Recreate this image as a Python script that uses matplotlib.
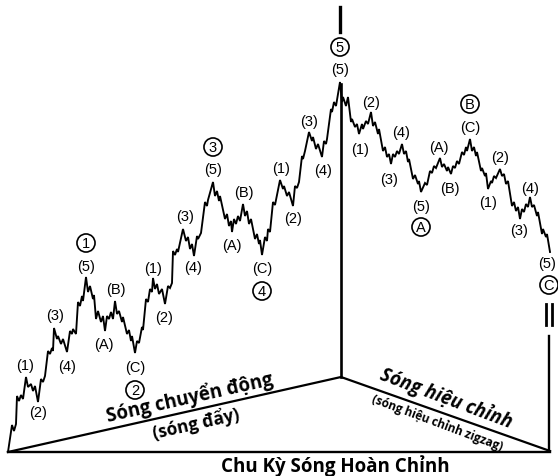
import matplotlib.pyplot as plt

plt.rcParams.update({"font.family": ["Liberation Sans", "DejaVu Sans"]})

# Wave path (pixel coords, y grows downward)
WAVE = [
    # impulse wave 1
    (8, 453), (12, 426), (14, 432), (16, 425), (17, 397), (19, 402), (21, 396), (23, 400), (26, 378),
    (28, 388), (31, 385), (33, 392), (35, 387), (38, 403),
    (41, 380), (43, 383), (45, 377), (48, 352), (50, 355), (52, 349), (53, 352), (54, 329),
    (57, 340), (58, 337), (61, 345), (63, 340), (67, 353),
    (70, 332), (72, 335), (73, 330), (76, 335), (78, 303), (80, 307), (82, 297), (83, 302), (86, 278),
    # wave 2
    (88, 293), (90, 287), (93, 300), (94, 296), (96, 320), (98, 312), (101, 323), (103, 317), (105, 332),
    (107, 317), (109, 320), (111, 313), (113, 320), (115, 302),
    (117, 315), (119, 312), (122, 323), (123, 318), (127, 335), (129, 331), (131, 342), (132, 337), (135, 354),
    # wave 3
    (137, 342), (139, 344), (142, 328), (143, 331), (146, 300), (148, 303), (150, 290), (152, 293), (153, 279),
    (155, 290), (157, 285), (159, 295), (162, 290), (165, 305),
    (168, 287), (170, 289), (172, 284), (173, 252), (175, 256), (177, 250), (178, 253), (183, 230),
    (186, 242), (188, 238), (190, 250), (192, 245), (194, 257),
    (197, 237), (198, 240), (201, 234), (205, 203), (207, 207), (208, 201), (213, 183),
    # wave 4
    (215, 197), (217, 192), (219, 202), (220, 197), (225, 220), (227, 215), (229, 227), (231, 222), (232, 233),
    (234, 220), (236, 225), (238, 217), (240, 222), (243, 205),
    (245, 217), (247, 212), (249, 225), (251, 220), (255, 240), (257, 235), (259, 245), (260, 241), (262, 256),
    # wave 5
    (265, 238), (267, 242), (268, 230), (270, 233), (273, 203), (275, 206), (280, 181),
    (283, 190), (284, 187), (287, 197), (289, 193), (293, 207),
    (295, 187), (297, 189), (299, 183), (302, 157), (303, 160), (305, 152), (309, 133),
    (312, 142), (313, 138), (316, 150), (318, 145), (322, 158),
    (324, 142), (326, 145), (327, 140), (331, 110), (332, 113), (334, 103), (336, 107), (340, 83),
    # corrective wave A
    (342, 103), (343, 98), (346, 107), (348, 98), (351, 123), (352, 120), (355, 128), (357, 125), (359, 135),
    (362, 125), (363, 130), (366, 122), (368, 125), (371, 113),
    (373, 127), (375, 123), (378, 135), (379, 130), (383, 152), (385, 148), (387, 158), (389, 155), (391, 165),
    (393, 155), (395, 158), (397, 152), (399, 155), (402, 145),
    (404, 155), (406, 152), (408, 163), (409, 160), (413, 180), (415, 176), (418, 185), (419, 182), (421, 193),
    # wave B
    (425, 184), (427, 186), (430, 172), (432, 174), (434, 167), (436, 169), (440, 159),
    (442, 168), (444, 165), (447, 172), (448, 168), (451, 175),
    (453, 167), (455, 169), (457, 162), (459, 165), (462, 153), (464, 156), (466, 148), (467, 152), (470, 140),
    # wave C
    (472, 152), (474, 148), (476, 157), (477, 153), (481, 172), (482, 169), (485, 177), (486, 174), (488, 190),
    (491, 182), (492, 184), (494, 177), (496, 179), (500, 170),
    (502, 177), (504, 175), (506, 185), (508, 182), (512, 207), (514, 203), (516, 212), (518, 208), (520, 220),
    (522, 210), (524, 213), (526, 205), (528, 208), (530, 198),
    (532, 208), (534, 206), (537, 217), (538, 213), (542, 235), (543, 230), (546, 238), (547, 235), (550, 253),
]

SUB_LABELS = ["(1)", "(2)", "(3)", "(4)", "(5)", "(A)", "(B)", "(C)",
              "(1)", "(2)", "(3)", "(4)", "(5)", "(A)", "(B)", "(C)",
              "(1)", "(2)", "(3)", "(4)", "(5)",
              "(1)", "(2)", "(3)", "(4)", "(5)", "(A)", "(B)", "(C)",
              "(1)", "(2)", "(3)", "(4)", "(5)"]
SUB_X = [25, 38, 55, 67, 86, 104, 116, 135,
         153, 164, 185, 193, 213, 232, 244, 262,
         281, 293, 309, 323, 340,
         360, 371, 389, 401, 421, 439, 450, 470,
         488, 500, 519, 530, 547]
SUB_Y = [366, 413, 316, 367, 267, 345, 290, 368,
         269, 318, 217, 268, 170, 246, 193, 269,
         169, 219, 122, 171, 70,
         150, 103, 180, 133, 207, 148, 189, 128,
         203, 158, 231, 189, 264]

MAJOR_LABELS = ["1", "2", "3", "4", "5", "A", "B", "C"]
MAJOR_X = [86, 135, 213, 262, 340, 421, 470, 549]
MAJOR_Y = [244, 391, 148, 292, 48, 228, 105, 286]

fig = plt.figure(figsize=(5.58, 4.77), dpi=100)
ax = fig.add_axes([0, 0, 1, 1])
ax.set_xlim(0, 558)
ax.set_ylim(477, 0)
ax.axis("off")

wx = [p[0] for p in WAVE]
wy = [p[1] for p in WAVE]
ax.plot(wx, wy, color="black", lw=1.35, solid_joinstyle="miter")

# base frame
ax.plot([8, 550], [453, 453], color="black", lw=1.7)
ax.plot([8, 341, 550], [453, 378, 452], color="black", lw=1.6)
ax.plot([341, 341], [85, 378], color="black", lw=1.9)
ax.plot([549, 549], [337, 452], color="black", lw=1.7)
ax.plot([340, 340], [8, 33], color="black", lw=2.4)
ax.plot([546, 546], [305, 326], color="black", lw=2.0)
ax.plot([552, 552], [305, 326], color="black", lw=2.0)

for t, x, y in zip(SUB_LABELS, SUB_X, SUB_Y):
    ax.text(x, y, t, ha="center", va="center", fontsize=10.5)

for t, x, y in zip(MAJOR_LABELS, MAJOR_X, MAJOR_Y):
    ax.text(x, y, t, ha="center", va="center", fontsize=10.5,
            bbox=dict(boxstyle="circle,pad=0.14", fc="white", ec="black", lw=1.2))

bold = dict(family=["Open Sans", "DejaVu Sans"], weight="bold",
            ha="center", va="center", rotation_mode="anchor")
ax.text(190, 398, "Sóng chuyển động", fontsize=13.5, rotation=12.7, **bold)
ax.text(196, 424, "(sóng đẩy)", fontsize=12.5, rotation=12.7, **bold)
ax.text(446, 398, "Sóng hiệu chỉnh", fontsize=13.5, rotation=-20.5, style="italic", **bold)
ax.text(437, 423, "(sóng hiệu chỉnh zigzag)", fontsize=8.5, rotation=-20.5, **bold)
ax.text(335, 466, "Chu Kỳ Sóng Hoàn Chỉnh", fontsize=13.5, **bold)

fig.savefig("out.png", dpi=100)
